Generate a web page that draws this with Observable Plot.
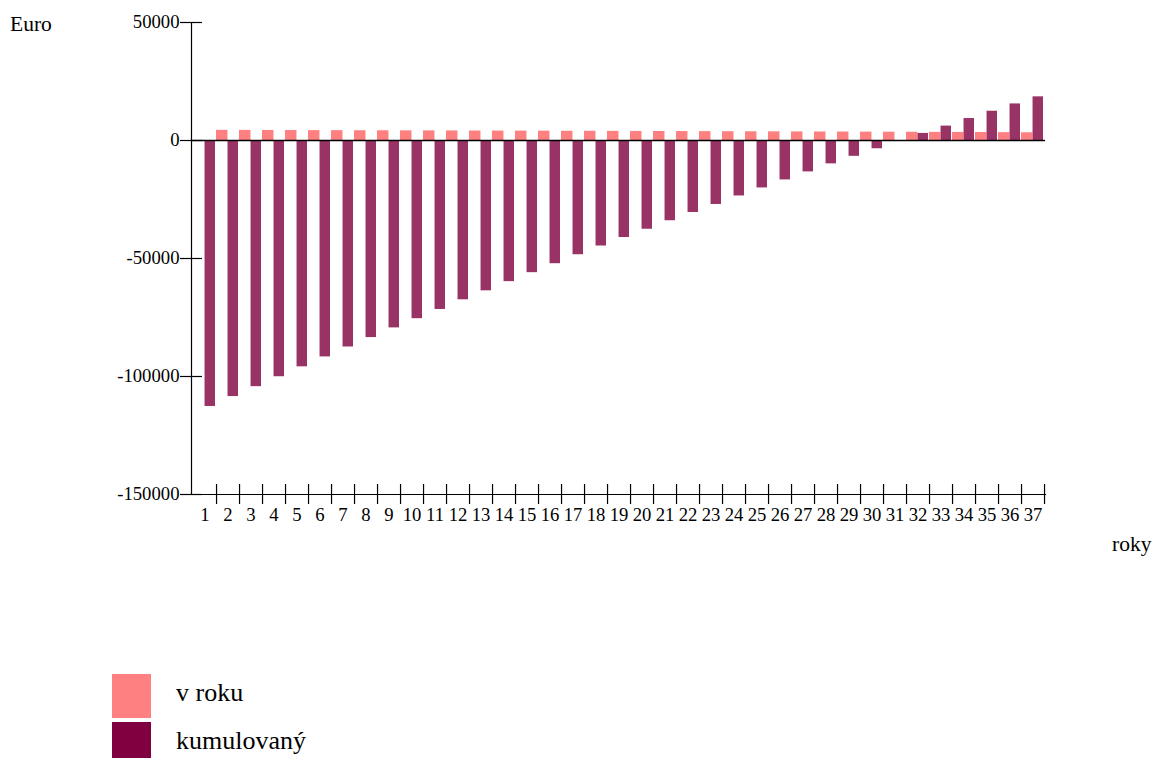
<!DOCTYPE html>
<html>
<head>
<meta charset="utf-8">
<script src="https://cdn.jsdelivr.net/npm/d3@7"></script>
<script src="https://cdn.jsdelivr.net/npm/@observablehq/plot@0.6"></script>
<style>
  html, body { margin: 0; padding: 0; background: #fff; }
  body { font-family: "Liberation Serif", "Times New Roman", serif; color: #000; }
  #wrap { position: relative; width: 1152px; height: 758px; overflow: hidden; }
  #chart { position: absolute; left: 0; top: 0; }
  .lab { position: absolute; font-size: 21.5px; line-height: 1; white-space: nowrap; }
  .legend { position: absolute; left: 112px; top: 674px; }
  .sw { position: absolute; left: 0; width: 39px; height: 44px; }
  .txt { position: absolute; left: 64px; font-size: 26px; line-height: 1; white-space: nowrap; }
</style>
</head>
<body>
<div id="wrap">
  <div id="chart"></div>
  <div class="lab" style="left:10px; top:13.5px;">Euro</div>
  <div class="lab" style="left:1112px; top:534px;">roky</div>
  <div class="legend" id="legend"></div>
</div>
<script>
// ---- data ----
const years = [1,2,3,4,5,6,7,8,9,10,11,12,13,14,15,16,17,18,19,20,21,22,23,24,25,26,27,28,29,30,31,32,33,34,35,36,37];
const vRoku = [null, 4300, 4280, 4250, 4230, 4200, 4180, 4150, 4130, 4100, 4080, 4050, 4030, 4000, 3980, 3950, 3920, 3900, 3870, 3840, 3820, 3790, 3760, 3730, 3700, 3680, 3650, 3620, 3590, 3560, 3530, 3500, 3460, 3420, 3380, 3330, 3280];
const kumulovany = [-112700, -108500, -104300, -100100, -95900, -91700, -87500, -83500, -79400, -75500, -71600, -67500, -63700, -59800, -56000, -52200, -48400, -44700, -41100, -37600, -34000, -30500, -27100, -23500, -20100, -16700, -13300, -9900, -6700, -3500, -400, 3000, 6100, 9300, 12400, 15500, 18500];
const yTicks = [50000, 0, -50000, -100000, -150000];
const seriesNames = ["v roku", "kumulovaný"];
const legendColors = ["#ff8080", "#800040"];
const barColors = ["#ff8080", "#993366"];

// ---- layout ----
const W = 1152, H = 560;
const mL = 191, mR = 107, mT = 22, mB = 66;
const frameW = W - mL - mR;
const frameH = H - mT - mB;
const bw = frameW / years.length;

const data = years.map((y, i) => ({year: y, v: vRoku[i], k: kumulovany[i]}));

const chart = Plot.plot({
  width: W, height: H,
  marginLeft: mL, marginRight: mR, marginTop: mT, marginBottom: mB,
  style: {fontFamily: "'Liberation Serif', 'Times New Roman', serif", fontSize: "18.7px", color: "#000", background: "#fff", overflow: "visible"},
  x: {type: "band", domain: years, padding: 0},
  y: {domain: [-150000, 50000]},
  marks: [
    Plot.barY(data.filter(d => d.v != null), {x: "year", y: "v", fill: barColors[0], insetLeft: 0, insetRight: bw / 2}),
    Plot.barY(data, {x: "year", y: "k", fill: barColors[1], insetLeft: bw / 2, insetRight: 1}),
    Plot.ruleY([0], {stroke: "#000", strokeWidth: 1.5}),
    Plot.frame({anchor: "left", stroke: "#000", strokeWidth: 1.2}),
    Plot.frame({anchor: "bottom", stroke: "#000", strokeWidth: 1.2}),
    // y tick marks crossing the axis
    Plot.ruleY(yTicks, {stroke: "#000", strokeWidth: 1.2, insetLeft: -11, insetRight: frameW - 11}),
    // x tick marks at band boundaries, crossing the axis
    Plot.ruleX(years, {x: d => d, dx: bw / 2, stroke: "#000", strokeWidth: 1.2, insetTop: frameH - 10, insetBottom: -10}),
    Plot.axisY({ticks: yTicks, tickSize: 0, tickPadding: 12, tickFormat: d => String(d), label: null, fontSize: 18.7}),
    Plot.axisX({tickSize: 0, tickPadding: 13, label: null, fontSize: 18.7})
  ]
});
document.getElementById("chart").appendChild(chart);

// ---- legend ----
const leg = document.getElementById("legend");
const swTops = [0, 48];
const txtTops = [6, 53.5];
seriesNames.forEach((name, i) => {
  const sw = document.createElement("div");
  sw.className = "sw";
  sw.style.top = swTops[i] + "px";
  sw.style.background = legendColors[i];
  const t = document.createElement("div");
  t.className = "txt";
  t.style.top = txtTops[i] + "px";
  t.textContent = name;
  leg.appendChild(sw);
  leg.appendChild(t);
});
</script>
</body>
</html>
